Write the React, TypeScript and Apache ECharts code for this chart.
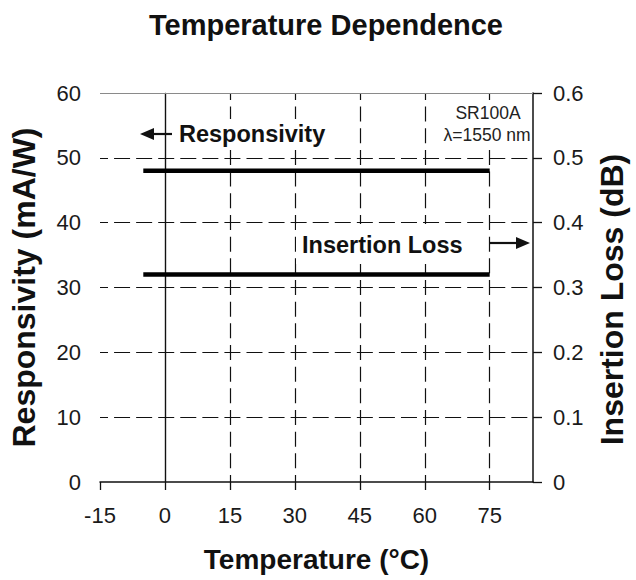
import React, { useEffect, useRef } from "react";
import * as echarts from "echarts";

// ---- data ----
const temperature = [-5, 75];
const responsivity = [48, 48];
const insertionLoss = [0.32, 0.32];
const xTicks = [-15, 0, 15, 30, 45, 60, 75];
const leftTicks = [0, 10, 20, 30, 40, 50, 60];
const rightTicks = [0, 0.1, 0.2, 0.3, 0.4, 0.5, 0.6];
const hGrid = [10, 20, 30, 40, 50];
const vGridDashed = [15, 30, 45, 60, 75];
const vGridSolid = [0];
const topBorder = [60];

const FONT = "'Liberation Sans', Arial, sans-serif";
const INK = "#111";

export default function App() {
  const ref = useRef<HTMLDivElement>(null);
  useEffect(() => {
    if (!ref.current) return;
    const chart = echarts.init(ref.current, null, { renderer: "svg" });

    const hDash = { color: INK, width: 1.2, type: [16, 6.07], dashOffset: 8 };
    const vDash = { color: INK, width: 1.2, type: [15, 6.67], dashOffset: 7.5 };

    const gridLines: any[] = [
      ...hGrid.map((v) => ({ yAxis: v, lineStyle: hDash })),
      ...vGridDashed.map((v) => ({ xAxis: v, lineStyle: vDash })),
      ...vGridSolid.map((v) => ({ xAxis: v, lineStyle: { color: INK, width: 1.3, type: "solid" } })),
      ...topBorder.map((v) => ({ yAxis: v, lineStyle: { color: "#8a8a8a", width: 1.2, type: "solid" } })),
    ];

    const option: any = {
      animation: false,
      backgroundColor: "#fff",
      textStyle: { fontFamily: FONT },
      title: {
        text: "Temperature Dependence",
        left: 321,
        top: 5,
        textAlign: "center",
        textStyle: { fontFamily: FONT, fontSize: 29, fontWeight: "bold", color: INK },
      },
      grid: { left: 100, right: 95, top: 93, bottom: 98 },
      xAxis: {
        type: "value",
        min: -15,
        max: 85,
        interval: 15,
        axisLine: { show: true, lineStyle: { color: INK, width: 1.5 } },
        axisTick: { show: true, length: 8, lineStyle: { color: INK, width: 1.3 }, customValues: xTicks },
        axisLabel: { fontSize: 22, color: "#1a1a1a", margin: 22, customValues: xTicks, fontFamily: FONT },
        splitLine: { show: false },
        name: "Temperature (°C)",
        nameLocation: "middle",
        nameGap: 63,
        nameTextStyle: { fontFamily: FONT, fontSize: 28, fontWeight: "bold", color: INK },
      },
      yAxis: [
        {
          type: "value",
          position: "left",
          min: 0,
          max: 60,
          interval: 10,
          axisLine: { show: true, lineStyle: { color: "#8a8a8a", width: 1.2 } },
          axisTick: { show: false },
          axisLabel: { fontSize: 22, color: "#1a1a1a", margin: 19, customValues: leftTicks, fontFamily: FONT },
          splitLine: { show: false },
          name: "Responsivity (mA/W)",
          nameLocation: "middle",
          nameGap: 60,
          nameTextStyle: { fontFamily: FONT, fontSize: 32, fontWeight: "bold", color: INK },
        },
        {
          type: "value",
          position: "right",
          min: 0,
          max: 0.6,
          interval: 0.1,
          axisLine: { show: true, lineStyle: { color: INK, width: 1.5 } },
          axisTick: { show: true, length: 9, lineStyle: { color: INK, width: 1.3 }, customValues: rightTicks },
          axisLabel: {
            fontSize: 22,
            color: "#1a1a1a",
            margin: 20,
            customValues: rightTicks,
            fontFamily: FONT,
            formatter: (v: number) => String(Math.round(v * 10) / 10),
          },
          splitLine: { show: false },
          name: "Insertion Loss (dB)",
          nameLocation: "middle",
          nameGap: 63,
          nameTextStyle: { fontFamily: FONT, fontSize: 32, fontWeight: "bold", color: INK, padding: [0, 24, 0, 0] },
        },
      ],
      series: [
        {
          name: "Responsivity",
          type: "line",
          yAxisIndex: 0,
          data: temperature.map((t, i) => [t, responsivity[i]]),
          symbol: "none",
          lineStyle: { color: "#000", width: 4.5 },
          z: 5,
          markLine: {
            silent: true,
            symbol: ["none", "none"],
            label: { show: false },
            data: gridLines,
            z: 1,
          },
        },
        {
          name: "Insertion Loss",
          type: "line",
          yAxisIndex: 1,
          data: temperature.map((t, i) => [t, insertionLoss[i]]),
          symbol: "none",
          lineStyle: { color: "#000", width: 4.5 },
          z: 5,
        },
      ],
      graphic: [
        // white boxes behind annotation texts (hide grid lines, as in the reference)
        { type: "rect", z: 50, shape: { x: 176, y: 119, width: 154, height: 31 }, style: { fill: "#fff" } },
        { type: "rect", z: 50, shape: { x: 296, y: 224, width: 172, height: 40 }, style: { fill: "#fff" } },
        { type: "rect", z: 50, shape: { x: 449, y: 101, width: 80, height: 47 }, style: { fill: "#fff" } },
        {
          type: "text",
          z: 60,
          x: 179,
          y: 134,
          style: { text: "Responsivity", font: `bold 23.5px ${FONT}`, fill: INK, verticalAlign: "middle" },
        },
        { type: "line", z: 60, shape: { x1: 150, y1: 134, x2: 172, y2: 134 }, style: { stroke: INK, lineWidth: 2.2 } },
        { type: "polygon", z: 60, shape: { points: [[140, 134], [154, 128], [154, 140]] }, style: { fill: INK } },
        {
          type: "text",
          z: 60,
          x: 302,
          y: 245,
          style: { text: "Insertion Loss", font: `bold 23.5px ${FONT}`, fill: INK, verticalAlign: "middle" },
        },
        { type: "line", z: 60, shape: { x1: 490, y1: 243, x2: 518, y2: 243 }, style: { stroke: INK, lineWidth: 2.2 } },
        { type: "polygon", z: 60, shape: { points: [[530, 243], [516, 237], [516, 249]] }, style: { fill: INK } },
        {
          type: "text",
          z: 60,
          x: 488,
          y: 113,
          style: { text: "SR100A", font: `17.5px ${FONT}`, fill: "#222", align: "center", verticalAlign: "middle" },
        },
        {
          type: "text",
          z: 60,
          x: 487,
          y: 135,
          style: { text: "λ=1550 nm", font: `17.5px ${FONT}`, fill: "#222", align: "center", verticalAlign: "middle" },
        },
      ],
    };
    chart.setOption(option);
    return () => chart.dispose();
  }, []);
  return (
    <div
      ref={ref}
      style={{ position: "fixed", left: 0, top: 0, width: 636, height: 580, background: "#fff" }}
    />
  );
}
